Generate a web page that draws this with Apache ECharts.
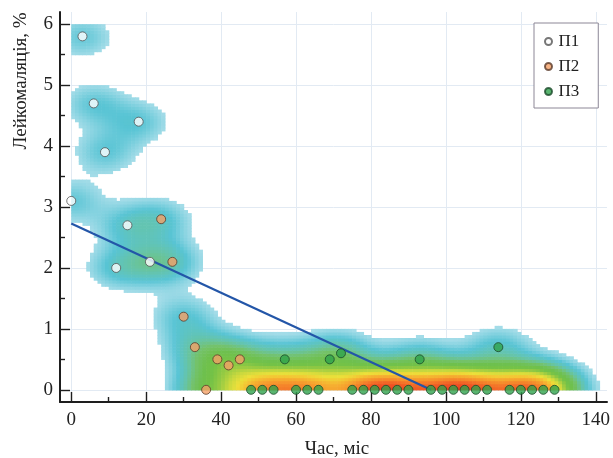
<!DOCTYPE html>
<html><head><meta charset="utf-8">
<script src="https://cdn.jsdelivr.net/npm/echarts@6/dist/echarts.min.js"></script>
<style>html,body{margin:0;padding:0;background:#fff}#c{width:613px;height:458px}</style>
</head><body><div id="c"></div>
<script>
// ---- data ----
const p1X = [0, 3, 6, 9, 12, 15, 18, 21];
const p1Y = [3.1, 5.8, 4.7, 3.9, 2.0, 2.7, 4.4, 2.1];
const p2X = [24, 27, 30, 33, 36, 39, 42, 45];
const p2Y = [2.8, 2.1, 1.2, 0.7, 0, 0.5, 0.4, 0.5];
const p3X = [48, 51, 54, 57, 60, 63, 66, 69, 72, 75, 78, 81, 84, 87, 90, 93, 96, 99, 102, 105, 108, 111, 114, 117, 120, 123, 126, 129];
const p3Y = [0, 0, 0, 0.5, 0, 0, 0, 0.5, 0.6, 0, 0, 0, 0, 0, 0, 0.5, 0, 0, 0, 0, 0, 0, 0.7, 0, 0, 0, 0, 0];
const trendX = [0, 96];
const trendY = [2.73, 0];
const xTicks = [0, 20, 40, 60, 80, 100, 120, 140];
const xMinor = [10, 30, 50, 70, 90, 110, 130];
const yTicks = [0, 1, 2, 3, 4, 5, 6];
const yMinor = [0.5, 1.5, 2.5, 3.5, 4.5, 5.5];
const seriesNames = ['П1', 'П2', 'П3'];

// ---- density background: kernel density of the plotted points (reflected at 0) ----
const HX = 6, HY = 0.25, HX2 = 8, HY2 = 0.4, W2 = 0.15, T = 0.6, DX = 1, DY = 0.05;
const allX = p1X.concat(p2X, p3X), allY = p1Y.concat(p2Y, p3Y);
function kern(dx, dy) {
  const u = dx / HX, v = dy / HY, u2 = dx / HX2, v2 = dy / HY2;
  return Math.exp(-0.5 * (u * u + v * v)) + W2 * Math.exp(-0.5 * (u2 * u2 + v2 * v2));
}
const cells = [];
for (let i = 0; i < 142; i++) {
  for (let j = 0; j < 120; j++) {
    const gx = i * DX, gy = j * DY, cx = gx + DX / 2, cy = gy + DY / 2;
    let d = 0;
    for (let k = 0; k < allX.length; k++) {
      d += kern(cx - allX[k], cy - allY[k]) + kern(cx - allX[k], cy + allY[k]);
    }
    if (d >= T) cells.push([gx, gy, d]);
  }
}
const zip = (xs, ys) => xs.map((x, i) => [x, ys[i]]);

const chart = echarts.init(document.getElementById('c'), null, {renderer: 'canvas'});
const FONT = 'Liberation Serif';
const INK = '#1e1e1e';
function tickAxis(min, max, pos, values, len) {
  return {
    type: 'value', min: min, max: max, position: pos, z: 5,
    axisLine: {show: false, onZero: false},
    axisTick: {show: true, inside: true, length: len, customValues: values, lineStyle: {color: INK, width: 1.4}},
    axisLabel: {show: false}, splitLine: {show: false}
  };
}
chart.setOption({
  animation: false,
  backgroundColor: '#fff',
  grid: {left: 60, right: 6, top: 12, bottom: 56, containLabel: false},
  xAxis: [
    {
      type: 'value', min: -3, max: 143, position: 'bottom', z: 0,
      axisLine: {show: true, onZero: false, lineStyle: {color: INK, width: 2}},
      axisTick: {show: false, customValues: xTicks},
      axisLabel: {customValues: xTicks, margin: 9, fontFamily: FONT, fontSize: 19, color: '#222'},
      splitLine: {show: true, lineStyle: {color: '#e2eaf3', width: 1}}
    },
    tickAxis(-3, 143, 'bottom', xTicks, 10),
    tickAxis(-3, 143, 'bottom', xMinor, 5)
  ],
  yAxis: [
    {
      type: 'value', min: -0.2, max: 6.2, position: 'left', z: 0,
      axisLine: {show: true, onZero: false, lineStyle: {color: INK, width: 2}},
      axisTick: {show: false, customValues: yTicks},
      axisLabel: {customValues: yTicks, margin: 7, fontFamily: FONT, fontSize: 19, color: '#222'},
      splitLine: {show: true, lineStyle: {color: '#e2eaf3', width: 1}}
    },
    tickAxis(-0.2, 6.2, 'left', yTicks, 10),
    tickAxis(-0.2, 6.2, 'left', yMinor, 5)
  ],
  visualMap: {
    type: 'continuous', show: false, seriesIndex: 0, dimension: 2,
    min: T, max: 11.5,
    inRange: {color: ['#a3dce8', '#58c4d4', '#66c4a8', '#74c26a', '#6ec04e', '#74c247', '#98cb43', '#cbd93e',
                      '#ece03a', '#f4c534', '#f6aa30', '#f6932d', '#f47a2a', '#f05e26', '#ec4723', '#e6321e']}
  },
  legend: {
    data: seriesNames, orient: 'vertical', left: 534, top: 23,
    padding: [10, 19, 8, 10], itemWidth: 10, itemHeight: 7, itemGap: 8,
    icon: 'circle', backgroundColor: '#fff', borderColor: '#8c8796', borderWidth: 1, borderRadius: 0,
    textStyle: {fontFamily: FONT, fontSize: 17, lineHeight: 16, color: '#222'}
  },
  graphic: [
    {type: 'text', x: 21, y: 81, rotation: Math.PI / 2,
     style: {text: 'Лейкомаляція, %', font: '19px "Liberation Serif"', fill: '#222', textAlign: 'center', textVerticalAlign: 'middle'}},
    {type: 'text', x: 337, y: 449,
     style: {text: 'Час, міс', font: '19px "Liberation Serif"', fill: '#222', textAlign: 'center', textVerticalAlign: 'middle'}}
  ],
  series: [
    {
      type: 'custom', name: 'density', xAxisIndex: 0, yAxisIndex: 0, z: 1, clip: true,
      data: cells,
      renderItem: function (params, api) {
        const x = api.value(0), y = api.value(1);
        const a = api.coord([x, y + DY]), b = api.coord([x + DX, y]);
        return {type: 'rect', shape: {x: a[0], y: a[1], width: b[0] - a[0] + 0.6, height: b[1] - a[1] + 0.6},
                style: {fill: api.visual('color')}, silent: true};
      }
    },
    {
      type: 'line', name: 'trend', xAxisIndex: 0, yAxisIndex: 0, z: 3, symbol: 'none',
      data: zip(trendX, trendY), lineStyle: {color: '#2356a8', width: 2.2}
    },
    {type: 'scatter', name: seriesNames[0], z: 5, symbolSize: 9, data: zip(p1X, p1Y),
     itemStyle: {color: '#ffffff', borderColor: '#555', borderWidth: 1}},
    {type: 'scatter', name: seriesNames[1], z: 5, symbolSize: 9, data: zip(p2X, p2Y),
     itemStyle: {color: '#f4a066', borderColor: '#5a3b2a', borderWidth: 1}},
    {type: 'scatter', name: seriesNames[2], z: 5, symbolSize: 9, data: zip(p3X, p3Y),
     itemStyle: {color: '#2fa24c', borderColor: '#1c4a2a', borderWidth: 1}}
  ]
});
</script>
</body></html>
